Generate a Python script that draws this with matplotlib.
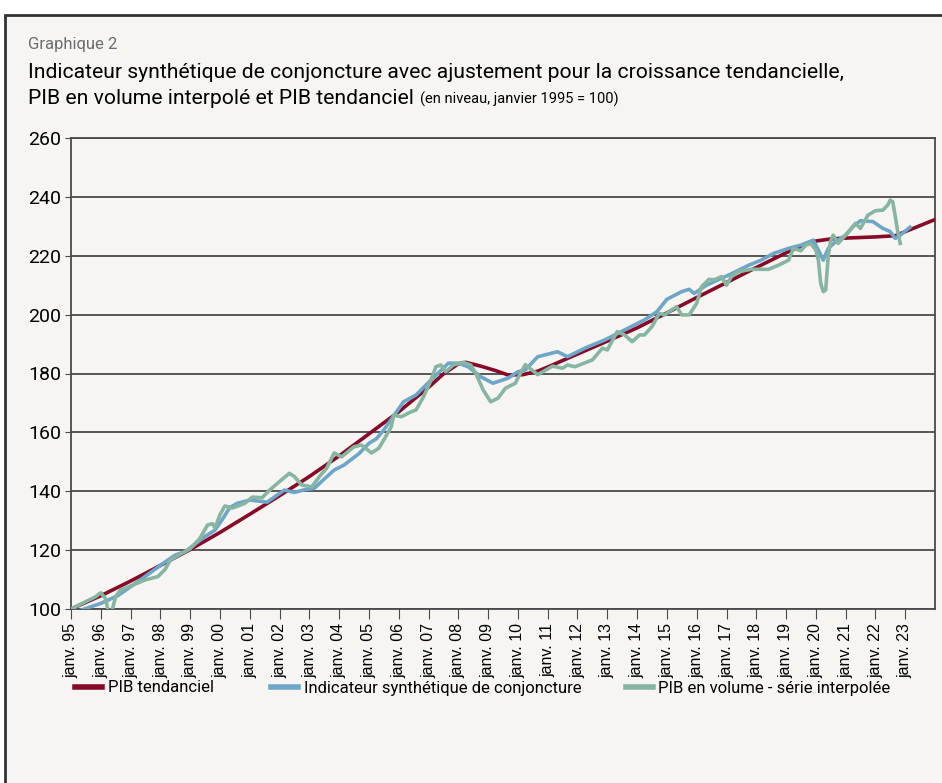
import matplotlib
matplotlib.use("Agg")
import matplotlib.pyplot as plt
from matplotlib.patches import Rectangle
import pandas as pd

# PIB tendanciel (month, level)
trend_dates = ["1995-01", "1996-01", "1997-01", "1998-01", "1999-01", "2000-01",
               "2001-01", "2002-01", "2003-01", "2004-01", "2005-01", "2006-01",
               "2007-01", "2007-07", "2008-01", "2008-04", "2008-10", "2009-04",
               "2009-09", "2010-03", "2010-09", "2011-01", "2012-01", "2013-01",
               "2014-01", "2015-01", "2016-01", "2017-01", "2018-01", "2019-01",
               "2019-07", "2020-01", "2020-07", "2021-01", "2022-01", "2022-09",
               "2023-01", "2024-01"]
trend_values = [100, 104.5, 109.5, 114.8, 120.2, 126, 132.2, 138.5, 145, 152,
                159.5, 167, 175.3, 179.8, 183.3, 183.8, 182.5, 181, 179.5, 179.6,
                180.8, 182.2, 186.6, 191, 195.5, 200.6, 205.8, 210.9, 216, 221,
                223.2, 225, 225.7, 226, 226.4, 226.8, 228.2, 232.3]

# Indicateur synthétique de conjoncture
isc_dates = ["1995-01", "1995-04", "1996-01", "1996-08", "1997-05", "1998-03",
             "1998-07", "1998-11", "1999-07", "1999-11", "2000-02", "2000-05",
             "2000-08", "2001-01", "2001-08", "2002-03", "2002-07", "2002-11",
             "2003-03", "2003-08", "2003-11", "2004-03", "2004-09", "2005-01",
             "2005-04", "2005-07", "2006-03", "2006-08", "2007-02", "2007-09",
             "2008-01", "2008-05", "2008-10", "2009-03", "2009-09", "2010-01",
             "2010-04", "2010-09", "2011-05", "2011-09", "2012-04", "2012-12",
             "2013-08", "2014-04", "2014-09", "2015-01", "2015-07", "2015-10",
             "2015-12", "2016-05", "2017-02", "2017-10", "2018-03", "2018-08",
             "2019-02", "2019-07", "2019-12", "2020-02", "2020-04", "2020-06",
             "2020-09", "2021-01", "2021-04", "2021-07", "2021-12", "2022-04",
             "2022-07", "2022-09", "2022-11", "2023-03"]
isc_values = [100, 99.3, 101.9, 104.6, 109.9, 116, 118.3, 119.5, 124.6, 126.8,
              130.5, 134.5, 135.9, 137, 136.3, 140.4, 139.6, 140.5, 141, 144.9,
              147.2, 148.9, 152.8, 156.3, 157.8, 160.8, 170.4, 172.7, 177.8, 183.5,
              183.5, 182.3, 178.9, 176.7, 178.4, 180.6, 181.2, 185.7, 187.4, 185.7,
              188.6, 191.4, 194.8, 198.2, 201, 205.2, 207.8, 208.6, 207.2, 210,
              213.5, 216.8, 218.5, 220.8, 222.5, 223.6, 225.3, 221.9, 218.5, 222.5,
              224.8, 227, 229.9, 231.9, 231.6, 229.3, 228.2, 225.9, 227, 229.7]

# PIB en volume - série interpolée
gdp_dates = ["1995-01", "1995-07", "1995-11", "1996-01", "1996-03", "1996-04",
             "1996-05", "1996-07", "1996-09", "1997-02", "1997-07", "1997-12",
             "1998-03", "1998-05", "1998-09", "1999-01", "1999-05", "1999-08",
             "1999-10", "1999-11", "2000-01", "2000-03", "2000-06", "2000-11",
             "2001-02", "2001-06", "2001-09", "2002-01", "2002-05", "2002-07",
             "2002-10", "2003-02", "2003-05", "2003-08", "2003-11", "2004-02",
             "2004-07", "2004-10", "2005-02", "2005-05", "2005-07", "2005-10",
             "2005-11", "2006-02", "2006-06", "2006-08", "2006-11", "2007-02",
             "2007-04", "2007-06", "2007-08", "2007-11", "2008-03", "2008-06",
             "2008-08", "2008-11", "2009-02", "2009-05", "2009-08", "2009-12",
             "2010-01", "2010-04", "2010-09", "2011-03", "2011-07", "2011-09",
             "2011-12", "2012-07", "2012-11", "2013-01", "2013-05", "2013-08",
             "2013-11", "2014-02", "2014-04", "2014-07", "2014-10", "2014-12",
             "2015-03", "2015-05", "2015-07", "2015-10", "2016-01", "2016-03",
             "2016-06", "2016-08", "2016-11", "2017-01", "2017-03", "2017-06",
             "2017-11", "2018-06", "2018-10", "2019-02", "2019-04", "2019-07",
             "2019-09", "2019-11", "2020-01", "2020-02", "2020-03", "2020-04",
             "2020-05", "2020-06", "2020-07", "2020-08", "2020-10", "2021-01",
             "2021-05", "2021-07", "2021-10", "2022-01", "2022-04", "2022-06",
             "2022-07", "2022-08", "2022-09", "2022-10", "2022-11"]
gdp_values = [100, 102.5, 104.2, 105.5, 103.5, 99, 97.6, 104.2, 106.5, 108.2,
              109.9, 111, 113.5, 116.6, 118.6, 120.5, 124, 128.5, 129, 127.5,
              132, 135, 134.3, 135.9, 138, 137.8, 140.4, 143.3, 146.1, 145,
              142.1, 141.5, 144.9, 147.8, 153, 151.7, 155.1, 155.7, 153, 154.6,
              157.4, 161.9, 165.9, 165.3, 167, 167.6, 172.1, 177.8, 182.3, 182.9,
              180.6, 182.9, 183.8, 182.9, 180.1, 174.4, 170.4, 171.6, 175, 176.7,
              178.5, 183, 179.6, 182.5, 181.8, 182.9, 182.3, 184.6, 188.6, 188,
              194.2, 193.1, 190.8, 193.1, 193.1, 195.9, 200.4, 199.9, 201.6, 202.7,
              199.9, 199.9, 203.8, 209.5, 212, 211.8, 212.9, 210, 212.9, 214.6,
              215.4, 215.4, 216.8, 218.5, 222.5, 221.7, 223.6, 224.2, 221.9, 218.5,
              210.6, 207.8, 208.4, 220, 225, 227, 224.2, 227, 231, 229.3,
              233.8, 235.3, 235.5, 237.2, 238.9, 238.3, 233.3, 228.2, 224.2]

years = list(range(1995, 2024))
tick_labels = ["janv. %02d" % (y % 100) for y in years]

BG = "#f6f5f1"
RED = "#870a28"
BLUE = "#6ea6c9"
GREEN = "#86b6a1"
GRID = "#4a4a4a"

plt.rcParams["font.family"] = ["Roboto", "DejaVu Sans"]

fig = plt.figure(figsize=(9.42, 7.83), dpi=100, facecolor="white")
# framed background behind everything
fig.patches.append(Rectangle((5 / 942, -0.01), 1.0, 1 - 15 / 783 + 0.01,
                             transform=fig.transFigure, facecolor=BG,
                             edgecolor="#333333", linewidth=2, zorder=-10))

ax = fig.add_axes([71 / 942, 1 - 609 / 783, (935 - 71) / 942, (609 - 138) / 783])
ax.set_facecolor(BG)

ax.plot(pd.to_datetime(trend_dates), trend_values, color=RED, lw=2.6,
        label="PIB tendanciel", zorder=3)
ax.plot(pd.to_datetime(isc_dates), isc_values, color=BLUE, lw=2.6,
        label="Indicateur synthétique de conjoncture", zorder=4)
ax.plot(pd.to_datetime(gdp_dates), gdp_values, color=GREEN, lw=2.6,
        label="PIB en volume - série interpolée", zorder=5)

ax.set_ylim(100, 260)
ax.set_yticks(range(100, 261, 20))
ax.set_xlim(pd.Timestamp("1995-01-01"), pd.Timestamp("2024-01-01"))
ax.set_xticks(pd.to_datetime(["%d-01-01" % y for y in years]))
ax.set_xticklabels(tick_labels, rotation=90, fontsize=11.5,
                   family=["Liberation Sans", "DejaVu Sans"])
ax.tick_params(axis="y", labelsize=14, length=4, color=GRID, pad=3)
ax.tick_params(axis="x", length=7, color=GRID, pad=3)
ax.grid(axis="y", color=GRID, lw=1.3, zorder=1)
for s in ax.spines.values():
    s.set_color(GRID)
    s.set_linewidth(1.3)

fig.text(28 / 942, 1 - 44 / 783, "Graphique 2", fontsize=12, color="#6d6d6d",
         va="center")
fig.text(28 / 942, 1 - 72 / 783,
         "Indicateur synthétique de conjoncture avec ajustement pour la croissance tendancielle,",
         fontsize=15.2, va="center")
line2 = fig.text(28 / 942, 1 - 104 / 783, "PIB en volume interpolé et PIB tendanciel",
                 fontsize=15.2, va="baseline")

# subtitle goes right after the second title line
fig.canvas.draw()
bb = line2.get_window_extent()
fig.text(bb.x1 / fig.bbox.width + 6 / 942, 1 - 104 / 783,
         "(en niveau, janvier 1995 = 100)", fontsize=10.5, va="baseline")

handles, labels = ax.get_legend_handles_labels()
for h, l, x in zip(handles, labels, [75, 271, 626]):
    leg = fig.legend([h], [l], loc="center left", bbox_to_anchor=(x / 942, 1 - 688 / 783),
                     frameon=False, fontsize=12, handlelength=1.6, handletextpad=0.35,
                     borderpad=0, borderaxespad=0)
    for ln in leg.get_lines():
        ln.set_linewidth(4)

fig.savefig("out.png", dpi=100, facecolor="white")
